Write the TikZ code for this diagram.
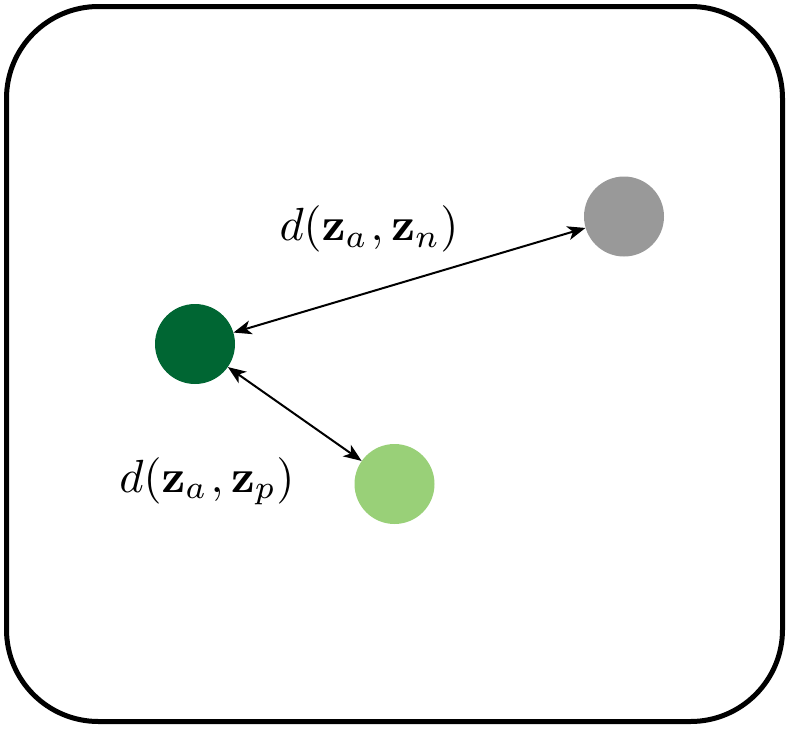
\documentclass[tikz,border=0pt]{standalone}
\usepackage{amsmath}
\usetikzlibrary{arrows.meta}
\definecolor{darkgreen}{RGB}{0,102,51}
\definecolor{lightgreen}{RGB}{153,208,120}
\definecolor{greypt}{RGB}{153,153,153}
\tikzset{
  pt/.style={circle, inner sep=0pt, minimum size=80pt, draw=none},
  dist/.style={<->, line width=2pt, >={Stealth[length=18pt, width=14pt, inset=5pt]}},
  lbl/.style={scale=4.65, transform shape, inner sep=0pt, anchor=base}
}
\begin{document}
\begin{tikzpicture}[x=1pt,y=-1pt]
\useasboundingbox (0,0) rectangle (789,728);
\draw[line width=5pt, rounded corners=92pt] (6.5,6.5) rectangle (782.5,721.5);
\node[pt, fill=darkgreen] (a) at (195,344) {};
\node[pt, fill=lightgreen] (p) at (394.5,484) {};
\node[pt, fill=greypt] (n) at (624,216.5) {};
\draw[dist] (a) -- (n);
\draw[dist] (a) -- (p);
\node[lbl] (ln) at (369,240.5) {$d(\mathbf{z}_a\mkern1mu,\mathbf{z}_n)$};
\node[lbl] (lp) at (207,492) {$d(\mathbf{z}_a\mkern1mu,\mathbf{z}_p)$};
\end{tikzpicture}
\end{document}
